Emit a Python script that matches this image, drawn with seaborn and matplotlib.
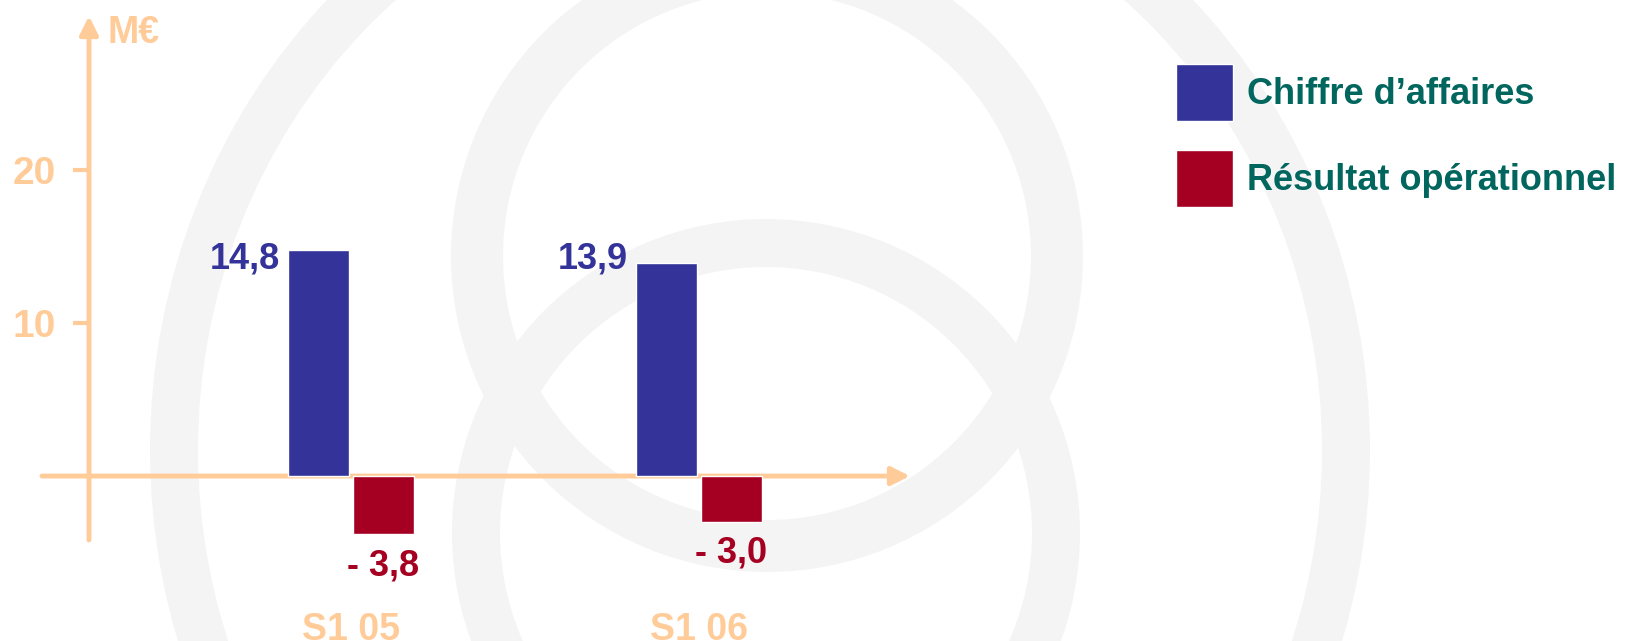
import matplotlib
matplotlib.use('Agg')
import matplotlib.pyplot as plt
from matplotlib.patches import Ellipse
import pandas as pd
import seaborn as sns

# data
periods = ['S1 05', 'S1 06']
chiffre_affaires = [14.8, 13.9]
resultat_op = [-3.8, -3.0]
series_names = ['Chiffre d’affaires', 'Résultat opérationnel']
labels_ca = ['14,8', '13,9']
labels_ro = ['- 3,8', '- 3,0']
y_ticks = [10, 20]
unit = 'M€'

BLUE = '#333399'
RED = '#A50021'
PEACH = '#FFCC99'
TEAL = '#00665E'
RING = '#F4F4F4'

df = pd.DataFrame({
    'periode': periods * 2,
    'serie': [series_names[0]] * len(periods) + [series_names[1]] * len(periods),
    'valeur': chiffre_affaires + resultat_op,
})

sns.set_style('white')
plt.rcParams['font.family'] = ['Liberation Sans', 'DejaVu Sans']
plt.rcParams['font.weight'] = 'bold'

W, H = 1629, 641
fig = plt.figure(figsize=(W / 100, H / 100), dpi=100)

# faint decorative rings in the background (pixel coordinates)
bg = fig.add_axes([0, 0, 1, 1], zorder=0)
bg.set_xlim(0, W)
bg.set_ylim(H, 0)
bg.axis('off')
for cx, cy, a, b, w in [(767, 256, 290, 290, 52),
                        (766, 533, 290, 290, 48),
                        (760, 450, 586, 615, 48)]:
    bg.add_patch(Ellipse((cx, cy), 2 * a, 2 * b, fill=False, ec=RING, lw=w * 0.72))

# main chart, placed in pixels
ax = fig.add_axes([42 / W, 1 - 540 / H, 868 / W, 524 / H], zorder=1)
ax.patch.set_alpha(0)

sns.barplot(data=df, x='periode', y='valeur', hue='serie', palette=[BLUE, RED],
            width=0.37, gap=0.05, saturation=1, errorbar=None, ax=ax)
handles = ax.get_legend().legend_handles
ax.get_legend().remove()

x0, x1 = -0.888, 1.606
y0, y1 = -4.18, 30.07
ax.set_xlim(x0, x1)
ax.set_ylim(y0, y1)
yx = -0.753  # where the vertical axis sits

for s in ax.spines.values():
    s.set_visible(False)
ax.spines['left'].set_position(('data', yx))

arrow = dict(arrowstyle='-|>,head_length=1.1,head_width=0.55', color=PEACH,
             lw=3.5, shrinkA=0, shrinkB=0)
ax.annotate('', xy=(yx, y1), xytext=(yx, y0), arrowprops=arrow, zorder=0.8)
ax.annotate('', xy=(x1, 0), xytext=(x0, 0), arrowprops=arrow, zorder=0.8)
ax.annotate(unit, xy=(yx, y1), xytext=(13, -12), textcoords='offset points',
            ha='left', va='center', fontsize=27, color=PEACH)

ax.set_yticks(y_ticks)
ax.tick_params(axis='y', left=True, length=11.5, width=3, color=PEACH,
               labelcolor=PEACH, labelsize=28, pad=12)
ax.tick_params(axis='x', bottom=False, length=0, labelcolor=PEACH,
               labelsize=27, pad=52)
ax.set_xlabel('')
ax.set_ylabel('')

# value labels: blue ones share the height of the tallest bar, red ones sit under their bar
half = 0.37 / 2
top_ca = max(chiffre_affaires)
for i in range(len(periods)):
    ax.annotate(labels_ca[i], xy=(i - half, top_ca), xytext=(-5, 6),
                textcoords='offset points', ha='right', va='top',
                fontsize=26, color=BLUE)
    ax.annotate(labels_ro[i], xy=(i + half / 2, resultat_op[i]), xytext=(0, -10),
                textcoords='offset points', ha='center', va='top',
                fontsize=26, color=RED)

fig.legend(handles, series_names, loc='upper left',
           bbox_to_anchor=(1176 / W, 1 - 64 / H), frameon=False, fontsize=26,
           handlelength=1.58, handleheight=2.05, handletextpad=0.39,
           labelspacing=0.8, borderpad=0, borderaxespad=0, labelcolor=TEAL)

fig.savefig('out.png', dpi=100)
